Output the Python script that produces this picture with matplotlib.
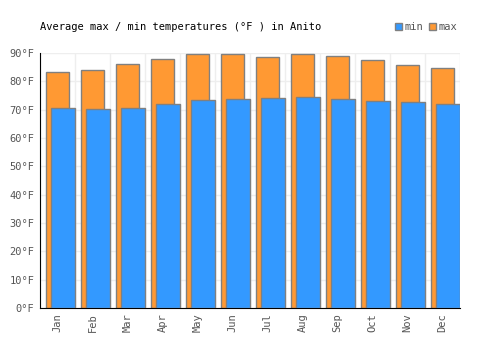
import numpy as np
import matplotlib.pyplot as plt

months = ['Jan', 'Feb', 'Mar', 'Apr', 'May', 'Jun', 'Jul', 'Aug', 'Sep', 'Oct', 'Nov', 'Dec']
tmax = [83.2, 83.9, 86.0, 87.8, 89.5, 89.5, 88.5, 89.5, 88.8, 87.4, 85.8, 84.7]
tmin = [70.5, 70.1, 70.5, 71.9, 73.3, 73.7, 74.0, 74.4, 73.7, 73.0, 72.6, 71.9]
yticks = [0, 10, 20, 30, 40, 50, 60, 70, 80, 90]

plt.rcParams['font.family'] = ['DejaVu Sans Mono']

fig = plt.figure(figsize=(5, 3.5), dpi=100)
ax = fig.add_axes([0.08, 0.12, 0.84, 0.729])

x = np.arange(len(months))
ax.bar(x, tmax, width=0.68, color='#ff9933', edgecolor='#808080', linewidth=1, label='max', zorder=2)
ax.bar(x + 0.157, tmin, width=0.7, color='#3399ff', edgecolor='#808080', linewidth=1, label='min', zorder=3)

ax.set_xlim(-0.5, 11.5)
ax.set_ylim(0, 90)
ax.set_xticks(x)
ax.set_xticklabels(months, rotation=90, fontsize=7.5, color='#555555')
ax.set_xticks(np.arange(-0.5, 12, 1), minor=True)
ax.set_yticks(yticks)
ax.set_yticklabels(['%d°F' % v for v in yticks], fontsize=7.5, color='#555555')
ax.tick_params(axis='both', which='both', length=0, pad=4)
ax.grid(True, axis='y', color='#eeeeee', linewidth=1, zorder=0)
ax.grid(True, axis='x', which='minor', color='#eeeeee', linewidth=1, zorder=0)
ax.set_axisbelow(True)

for s in ['top', 'right']:
    ax.spines[s].set_visible(False)
ax.spines['left'].set_color('black')
ax.spines['bottom'].set_color('black')

fig.text(0.08, 0.915, 'Average max / min temperatures (°F ) in Anito', fontsize=7.5, color='black')

handles, labels = ax.get_legend_handles_labels()
leg = fig.legend(handles[::-1], labels[::-1], loc='center right', bbox_to_anchor=(0.925, 0.922),
                 ncol=2, frameon=False, fontsize=7.5, handlelength=0.7, handleheight=0.7,
                 handletextpad=0.2, columnspacing=0.6, borderpad=0)
for t in leg.get_texts():
    t.set_color('#555555')

fig.savefig('out.png', dpi=100)
